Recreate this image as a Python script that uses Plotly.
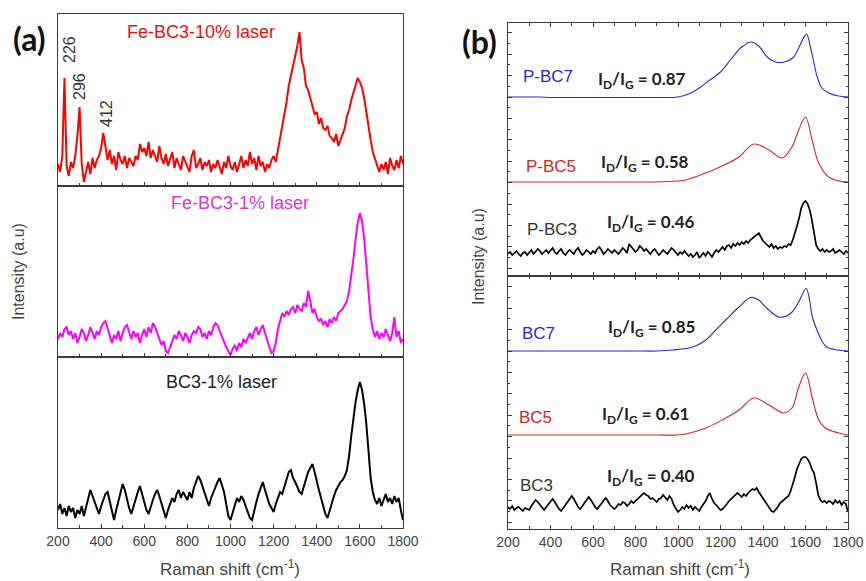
import plotly.graph_objects as go

# ---------------- data (intensities in arbitrary units) -------------
GRID_START, GRID_STOP, GRID_STEP = 200, 1800, 10
RAMAN_GRID = list(range(GRID_START, GRID_STOP + 1, GRID_STEP))

# panel (a)
FE_BC3_10 = [22, 14, 30, 108, 20, 10, 24, 18, 30, 50,
             79, 22, 4, 14, 24, 12, 28, 18, 26, 30,
             38, 53, 40, 26, 36, 22, 30, 16, 34, 26,
             22, 30, 18, 28, 24, 20, 30, 26, 42, 34,
             38, 30, 44, 28, 36, 30, 24, 40, 28, 22,
             32, 20, 26, 34, 18, 28, 22, 16, 30, 24,
             20, 14, 30, 36, 18, 22, 28, 16, 24, 20,
             26, 14, 22, 18, 26, 20, 12, 24, 18, 30,
             20, 16, 24, 14, 22, 30, 18, 26, 20, 34,
             22, 28, 16, 30, 20, 24, 14, 22, 18, 26,
             30, 24, 36, 48, 56, 70, 84, 100, 110, 118,
             128, 140, 154, 126, 118, 100, 96, 88, 80, 72,
             74, 62, 68, 58, 56, 60, 50, 48, 44, 52,
             40, 46, 52, 58, 70, 76, 86, 94, 100, 108,
             104, 98, 88, 74, 56, 46, 34, 28, 20, 14,
             22, 16, 24, 12, 28, 20, 16, 26, 18, 30,
             22]

FE_BC3_1 = [18, 24, 20, 28, 30, 22, 26, 18, 24, 14,
            20, 28, 24, 16, 22, 30, 24, 18, 26, 22,
            30, 34, 36, 28, 20, 14, 22, 18, 26, 16,
            24, 30, 32, 24, 18, 26, 20, 24, 14, 22,
            28, 20, 30, 24, 34, 30, 24, 18, 12, 16,
            6, 4, 10, 16, 22, 18, 26, 22, 16, 24,
            20, 14, 22, 26, 24, 30, 28, 20, 24, 18,
            26, 22, 30, 34, 32, 26, 20, 14, 10, 6,
            2, 8, 12, 6, 14, 10, 18, 14, 20, 24,
            18, 26, 30, 22, 28, 32, 24, 16, 10, 4,
            6, 14, 28, 36, 44, 40, 46, 42, 48, 50,
            44, 52, 48, 46, 54, 50, 66, 56, 44, 48,
            40, 36, 38, 32, 36, 30, 38, 34, 40, 36,
            44, 46, 48, 52, 56, 66, 80, 98, 118, 134,
            144, 136, 118, 94, 66, 40, 28, 20, 26, 18,
            24, 20, 28, 22, 16, 24, 40, 20, 26, 14,
            18]

BC3_1 = [18, 24, 14, 20, 12, 22, 16, 20, 10, 18,
         14, 22, 12, 20, 30, 38, 32, 26, 20, 14,
         22, 28, 34, 36, 26, 16, 8, 18, 26, 36,
         44, 38, 28, 20, 14, 22, 30, 36, 42, 34,
         24, 18, 14, 22, 28, 34, 38, 32, 24, 16,
         10, 18, 24, 30, 26, 34, 38, 30, 36, 32,
         28, 36, 30, 40, 46, 52, 48, 42, 36, 28,
         22, 30, 36, 42, 46, 50, 44, 36, 24, 12,
         8, 16, 24, 30, 26, 32, 28, 22, 16, 10,
         8, 18, 26, 34, 40, 46, 38, 30, 24, 20,
         16, 24, 30, 36, 34, 42, 48, 56, 58, 50,
         46, 40, 36, 34, 42, 48, 56, 60, 64, 56,
         46, 38, 30, 22, 14, 10, 18, 26, 32, 38,
         42, 46, 48, 52, 58, 72, 92, 110, 126, 138,
         146, 138, 124, 104, 76, 50, 36, 28, 24, 30,
         22, 28, 34, 26, 30, 24, 32, 26, 30, 18,
         8]

# panel (b), upper frame
P_BC7_X = [200, 250, 300, 350, 400, 450, 500, 600, 700, 800, 900, 1000, 1050, 1100,
           1150, 1200, 1250, 1300, 1345, 1380, 1420, 1460, 1500, 1540, 1570, 1590,
           1605, 1623, 1640, 1655, 1677, 1710, 1756, 1800]
P_BC7 = [179, 179, 179, 179, 178.5, 178.5, 178.5, 178.5, 178.5, 178.5, 178.5, 179, 182, 188,
         196, 204, 217, 229, 234, 230, 219, 214, 214, 218, 229, 238,
         242, 229, 213, 199, 188, 183, 180, 179]

P_BC5_X = [200, 300, 400, 500, 600, 700, 800, 900, 1000, 1037, 1131, 1208, 1287, 1357,
           1428, 1491, 1536, 1568, 1600, 1631, 1662, 1709, 1756, 1800]
P_BC5 = [94, 94, 94, 94, 94, 94, 94, 94, 95, 96, 103, 110, 119, 132,
         126, 118, 129, 146, 159, 136, 113, 99, 95, 94]

P_BC3 = [22, 24, 21, 23, 25, 22, 20, 23, 24, 21,
         23, 26, 22, 24, 27, 25, 22, 24, 26, 23,
         25, 28, 24, 22, 25, 27, 23, 21, 24, 26,
         24, 22, 26, 28, 24, 21, 23, 26, 24, 22,
         25, 23, 27, 29, 26, 22, 24, 27, 25, 23,
         26, 24, 22, 25, 28, 26, 23, 32, 29, 27,
         24, 26, 30, 28, 25, 27, 24, 22, 25, 27,
         24, 21, 23, 26, 24, 22, 25, 28, 26, 23,
         21, 24, 22, 25, 23, 20, 22, 19, 21, 24,
         18, 21, 23, 20, 24, 22, 19, 23, 26, 24,
         27, 29, 26, 30, 31, 28, 32, 30, 33, 31,
         34, 32, 35, 33, 36, 38, 40, 42, 43, 39,
         35, 33, 31, 29, 32, 28, 30, 27, 29, 28,
         30, 29, 32, 31, 36, 42, 50, 58, 68, 73,
         75, 72, 66, 56, 42, 31, 27, 25, 27, 24,
         26, 24, 25, 27, 23, 25, 26, 24, 22, 25,
         23]

# panel (b), lower frame
BC7_X = [200, 300, 400, 500, 600, 700, 800, 900, 975, 1069, 1131, 1178, 1225, 1287,
         1342, 1380, 1412, 1450, 1475, 1510, 1537, 1568, 1603, 1620, 1631, 1654,
         1680, 1700, 1750, 1800]
BC7 = [178, 178, 178, 178, 178, 178, 178, 178, 179, 182, 189, 199, 209, 222,
       231.5, 229, 222, 215, 212, 213, 217, 227, 240.5, 228, 213, 199,
       187, 182, 179, 178]

BC5_X = [200, 300, 400, 500, 600, 700, 800, 900, 1000, 1037, 1131, 1208, 1287, 1357,
         1428, 1498, 1536, 1568, 1600, 1631, 1662, 1693, 1756, 1800]
BC5 = [94, 94, 94, 94, 94, 94, 94, 94, 94, 95, 101, 109, 119, 131,
       124, 116, 121, 142, 156, 132, 109, 101, 96, 94]

BC3 = [22, 20, 23, 19, 21, 22, 20, 18, 21, 20,
       19, 23, 26, 29, 27, 24, 21, 19, 22, 25,
       28, 30, 27, 23, 20, 18, 21, 24, 27, 31,
       33, 30, 26, 22, 20, 23, 27, 30, 32, 29,
       25, 22, 20, 23, 26, 29, 31, 28, 24, 22,
       20, 22, 25, 24, 27, 26, 23, 25, 28, 26,
       28, 31, 33, 35, 36, 34, 33, 30, 31, 29,
       27, 30, 31, 34, 32, 29, 33, 30, 24, 20,
       17, 19, 22, 20, 24, 21, 23, 19, 22, 20,
       18, 22, 25, 28, 33, 36, 30, 26, 24, 21,
       19, 20, 22, 25, 28, 30, 33, 34, 36, 34,
       32, 35, 33, 36, 38, 40, 39, 41, 37, 34,
       30, 27, 24, 21, 18, 17, 19, 22, 26, 28,
       30, 32, 33, 38, 44, 52, 60, 66, 70, 72,
       72, 70, 66, 60, 56, 46, 34, 29, 27, 28,
       26, 28, 27, 25, 29, 26, 28, 24, 27, 25,
       17]

X_TICKS = [200, 400, 600, 800, 1000, 1200, 1400, 1600, 1800]
ID_IG = {"P-BC7": "0.87", "P-BC5": "0.58", "P-BC3": "0.46",
         "BC7": "0.85", "BC5": "0.61", "BC3": "0.40"}
PEAK_LABELS = ["226", "296", "412"]

# ---------------- layout helpers -------------
W, H = 866, 581


def px_x(p):
    return p / W


def px_y(p):
    return 1 - p / H


RED, MAGENTA, BLACK = "#ff0000", "#ff00ff", "#000000"
BLUE_B, RED_B = "#2a2ac8", "#d02828"
FRAME = "#3a3a3a"
FONT = "Liberation Sans, Arial, sans-serif"
BOLD_FONT = "Lato, Open Sans, sans-serif"

fig = go.Figure()

traces = [
    ("x", "y", RAMAN_GRID, FE_BC3_10, RED, 2.0, "linear"),
    ("x2", "y2", RAMAN_GRID, FE_BC3_1, MAGENTA, 2.0, "linear"),
    ("x3", "y3", RAMAN_GRID, BC3_1, BLACK, 2.0, "linear"),
    ("x4", "y4", P_BC7_X, P_BC7, BLUE_B, 1.1, "spline"),
    ("x4", "y4", P_BC5_X, P_BC5, RED_B, 1.1, "spline"),
    ("x4", "y4", RAMAN_GRID, P_BC3, BLACK, 1.7, "linear"),
    ("x5", "y5", BC7_X, BC7, BLUE_B, 1.1, "spline"),
    ("x5", "y5", BC5_X, BC5, RED_B, 1.1, "spline"),
    ("x5", "y5", RAMAN_GRID, BC3, BLACK, 1.7, "linear"),
]
for xa, ya, xs, ys, col, w, shape in traces:
    fig.add_trace(go.Scatter(x=xs, y=ys, xaxis=xa, yaxis=ya, mode="lines",
                             line=dict(color=col, width=w, shape=shape),
                             showlegend=False, hoverinfo="skip"))

A_X = [px_x(58), px_x(403)]
B_X = [px_x(508), px_x(848)]
a_rows = [(14, 186), (186, 357), (357, 528)]
b_rows = [(23, 276), (276, 529)]

TICKFONT = dict(family=FONT, size=14, color="#444")


def xaxis_a(show_labels):
    return dict(domain=A_X, range=[200, 1800], showline=True, mirror=True,
                linecolor=FRAME, linewidth=1, ticks="inside", ticklen=4,
                tickcolor=FRAME, tickvals=X_TICKS, showticklabels=show_labels,
                minor=dict(ticks="inside", ticklen=3, dtick=100, tick0=200,
                           tickcolor=FRAME),
                showgrid=False, zeroline=False, automargin=False,
                tickfont=TICKFONT)


def xaxis_b(show_labels):
    return dict(domain=B_X, range=[200, 1800], showline=True, mirror="ticks",
                linecolor=FRAME, linewidth=1, ticks="inside", ticklen=4,
                tickcolor=FRAME, tickvals=X_TICKS, showticklabels=show_labels,
                minor=dict(ticks="inside", ticklen=3, dtick=100, tick0=200,
                           tickcolor=FRAME),
                showgrid=False, zeroline=False, automargin=False,
                tickfont=TICKFONT)


layout = dict(width=W, height=H, margin=dict(l=0, r=0, t=0, b=0),
              paper_bgcolor="white", plot_bgcolor="white", showlegend=False,
              template="none")

layout["xaxis"] = dict(xaxis_a(False), anchor="y")
layout["xaxis2"] = dict(xaxis_a(False), anchor="y2")
layout["xaxis3"] = dict(xaxis_a(True), anchor="y3")
layout["xaxis4"] = dict(xaxis_b(False), anchor="y4")
layout["xaxis5"] = dict(xaxis_b(True), anchor="y5")

for i, (top, bot) in enumerate(a_rows):
    key = "yaxis" if i == 0 else f"yaxis{i + 1}"
    layout[key] = dict(domain=[px_y(bot), px_y(top)], range=[0, bot - top],
                       showline=True, mirror=True, linecolor=FRAME, linewidth=1,
                       ticks="", showticklabels=False, showgrid=False,
                       zeroline=False, automargin=False,
                       anchor="x" if i == 0 else f"x{i + 1}")

for i, (top, bot) in enumerate(b_rows):
    key = f"yaxis{i + 4}"
    base = 179 if i == 0 else 178
    layout[key] = dict(domain=[px_y(bot), px_y(top)], range=[0, bot - top],
                       showline=True, mirror="ticks", linecolor=FRAME, linewidth=1,
                       ticks="inside", ticklen=4, tickcolor=FRAME, tick0=base,
                       dtick=21.4, showticklabels=False,
                       minor=dict(ticks="inside", ticklen=2, tick0=base + 10.7,
                                  dtick=21.4, tickcolor=FRAME),
                       showgrid=False, zeroline=False, automargin=False,
                       anchor=f"x{i + 4}")

fig.update_layout(**layout)

ann = []


def add_text(text, x, y, size, color, family=FONT, angle=0):
    ann.append(dict(text=text, x=px_x(x), y=px_y(y), xref="paper", yref="paper",
                    showarrow=False, xanchor="center", yanchor="middle",
                    textangle=angle, font=dict(family=family, size=size, color=color)))


# panel letters
add_text("<b>(a)</b>", 30, 39, 32, "#111", BOLD_FONT)
add_text("<b>(b)</b>", 480, 41, 32, "#111", BOLD_FONT)

# panel (a) sample labels
add_text("Fe-BC3-10% laser", 201, 32, 18, "#ee1111")
add_text("Fe-BC3-1% laser", 240, 203, 18, "#dd33dd")
add_text("BC3-1% laser", 221, 382, 18, "#222")

# peak position labels
for lab, (x, y) in zip(PEAK_LABELS, [(69, 50), (79, 87), (106, 114)]):
    add_text(lab, x, y, 16, "#333", angle=-90)

# panel (b) sample labels and ratios
sample_pos = [("P-BC7", BLUE_B, 548, 76, 642, 80),
              ("P-BC5", RED_B, 551, 167, 645, 163),
              ("P-BC3", "#333", 552, 230, 651, 223),
              ("BC7", BLUE_B, 538, 333, 651, 328),
              ("BC5", RED_B, 535, 417, 645, 415),
              ("BC3", "#333", 536, 485, 651, 477)]
for name, col, lx, ly, rx, ry in sample_pos:
    add_text(name, lx, ly, 17, col)
    add_text(f"<b>I<sub>D</sub>/I<sub>G</sub> = {ID_IG[name]}</b>", rx, ry, 17,
             "#222", BOLD_FONT)

# axis titles
add_text("Raman shift (cm<sup>-1</sup>)", 230, 568, 17, "#444")
add_text("Raman shift (cm<sup>-1</sup>)", 680, 568, 17, "#444")
add_text("Intensity (a.u)", 18, 272, 16, "#444", angle=-90)
add_text("Intensity (a.u)", 478, 257, 16, "#444", angle=-90)

fig.update_layout(annotations=ann)

fig.write_html("out.html", config={"displayModeBar": False},
               post_script="document.body.style.margin='0';document.body.style.padding='0';")
